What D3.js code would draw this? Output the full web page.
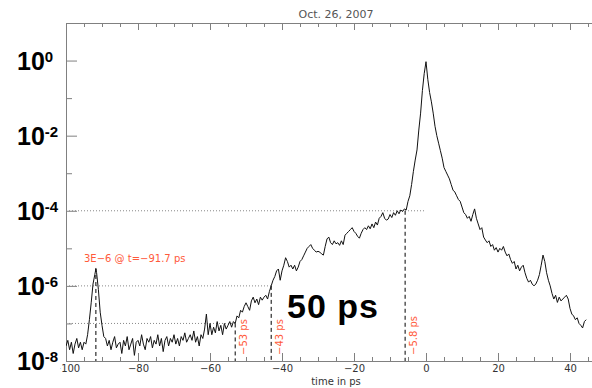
<!DOCTYPE html>
<html>
<head>
<meta charset="utf-8">
<script src="https://cdnjs.cloudflare.com/ajax/libs/d3/7.8.5/d3.min.js"></script>
<style>
body { margin: 0; background: #fff; }
.axis path, .axis line { stroke: #808080; }
.axis text { font-family: "DejaVu Sans", sans-serif; font-size: 10px; fill: #333; }
</style>
</head>
<body>
<script>
// Trace: [time in ps, log10 of signal]
var trace = [
    [-100, -7.6], [-99.5, -7.45], [-99, -7.7], [-98.5, -7.5], [-98, -7.8],
    [-97.5, -7.55], [-97, -7.4], [-96.5, -7.65], [-96, -7.5], [-95.5, -7.7],
    [-95, -7.5], [-94.5, -7.55], [-94, -7.3], [-93.5, -6.9], [-93, -6.45],
    [-92.5, -5.95], [-92, -5.7], [-91.7, -5.55], [-91.5, -5.65], [-91, -6.1],
    [-90.5, -6.7], [-90, -7.05], [-89.5, -7.35], [-89, -7.4], [-88.5, -7.6],
    [-88, -7.45], [-87.5, -7.7], [-87, -7.5], [-86.5, -7.35], [-86, -7.65],
    [-85.5, -7.55], [-85, -7.5], [-84.5, -7.8], [-84, -7.45], [-83.5, -7.6],
    [-83, -7.35], [-82.5, -7.7], [-82, -7.55], [-81.5, -7.4], [-81, -7.85],
    [-80.5, -7.5], [-80, -7.45], [-79.5, -7.6], [-79, -7.3], [-78.5, -7.55],
    [-78, -7.7], [-77.5, -7.4], [-77, -7.5], [-76.5, -7.35], [-76, -7.65],
    [-75.5, -7.45], [-75, -7.55], [-74.5, -7.3], [-74, -7.6], [-73.5, -7.4],
    [-73, -7.75], [-72.5, -7.45], [-72, -7.35], [-71.5, -7.6], [-71, -7.4],
    [-70.5, -7.5], [-70, -7.3], [-69.5, -7.55], [-69, -7.4], [-68.5, -7.6],
    [-68, -7.35], [-67.5, -7.45], [-67, -7.25], [-66.5, -7.5], [-66, -7.4],
    [-65.5, -7.3], [-65, -7.45], [-64.5, -7.2], [-64, -7.5], [-63.5, -7.35],
    [-63, -7.6], [-62.5, -7.3], [-62, -7.4], [-61.5, -7.15], [-61, -6.75],
    [-60.5, -7.3], [-60, -7.0], [-59.5, -7.3], [-59, -7.1], [-58.5, -7.25],
    [-58, -6.95], [-57.5, -7.2], [-57, -7.05], [-56.5, -7.3], [-56, -7.0],
    [-55.5, -7.15], [-55, -7.05], [-54.5, -6.95], [-54, -7.1], [-53.5, -6.95],
    [-53, -7.0], [-52.5, -6.8], [-52, -6.85], [-51.5, -6.65], [-51, -6.7],
    [-50.5, -6.55], [-50, -6.45], [-49.5, -6.55], [-49, -6.65], [-48.5, -6.4],
    [-48, -6.3], [-47.5, -6.45], [-47, -6.35], [-46.5, -6.5], [-46, -6.3],
    [-45.5, -6.38], [-45, -6.3], [-44.5, -6.25], [-44, -6.35], [-43.5, -6.15],
    [-43, -6.0], [-42.5, -5.85], [-42, -5.75], [-41.5, -5.6], [-41, -5.55],
    [-40.5, -5.85], [-40, -5.6], [-39.5, -5.45], [-39, -5.25], [-38.5, -5.35],
    [-38, -5.5], [-37.5, -5.45], [-37, -5.55], [-36.5, -5.45], [-36, -5.6],
    [-35.5, -5.5], [-35, -5.35], [-34.5, -5.3], [-34, -5.2], [-33.5, -5.1],
    [-33, -5.0], [-32.5, -4.95], [-32, -4.9], [-31.5, -5.0], [-31, -5.05],
    [-30.5, -5.1], [-30, -5.08], [-29.5, -5.1], [-29, -5.15], [-28.5, -5.18],
    [-28, -4.95], [-27.5, -4.75], [-27, -4.7], [-26.5, -4.85], [-26, -4.9],
    [-25.5, -4.8], [-25, -4.88], [-24.5, -4.85], [-24, -4.92], [-23.5, -4.8],
    [-23, -4.9], [-22.5, -4.65], [-22, -4.6], [-21.5, -4.55], [-21, -4.5],
    [-20.5, -4.45], [-20, -4.55], [-19.5, -4.6], [-19, -4.68], [-18.5, -4.73],
    [-18, -4.6], [-17.5, -4.5], [-17, -4.45], [-16.5, -4.5], [-16, -4.4],
    [-15.5, -4.48], [-15, -4.35], [-14.5, -4.45], [-14, -4.3], [-13.5, -4.38],
    [-13, -4.2], [-12.5, -4.15], [-12, -4.05], [-11.5, -4.2], [-11, -4.25],
    [-10.5, -4.22], [-10, -4.1], [-9.5, -4.18], [-9, -4.05], [-8.5, -4.12],
    [-8, -4.0], [-7.5, -4.08], [-7, -3.98], [-6.5, -4.02], [-6, -3.95],
    [-5.5, -3.98], [-5, -3.75], [-4.5, -3.6], [-4, -3.3], [-3.5, -2.95],
    [-3, -2.65], [-2.5, -2.38], [-2, -1.85], [-1.5, -1.4], [-1, -0.8],
    [-0.5, -0.35], [0, -0.03], [0.5, -0.5], [1, -0.85], [1.5, -1.1],
    [2, -1.4], [2.5, -1.75], [3, -2.0], [3.5, -2.2], [4, -2.4],
    [4.5, -2.6], [5, -2.85], [5.5, -2.95], [6, -3.05], [6.5, -3.15],
    [7, -3.3], [7.5, -3.45], [8, -3.5], [8.5, -3.6], [9, -3.7],
    [9.5, -3.75], [10, -3.9], [10.5, -4.05], [11, -4.1], [11.5, -4.2],
    [12, -4.15], [12.5, -4.28], [13, -4.1], [13.5, -3.95], [14, -4.2],
    [14.5, -4.35], [15, -4.5], [15.5, -4.45], [16, -4.7], [16.5, -4.78],
    [17, -4.85], [17.5, -4.8], [18, -4.95], [18.5, -4.9], [19, -5.05],
    [19.5, -4.98], [20, -5.1], [20.5, -5.0], [21, -5.05], [21.5, -4.95],
    [22, -5.1], [22.5, -5.2], [23, -5.15], [23.5, -5.3], [24, -5.4],
    [24.5, -5.35], [25, -5.55], [25.5, -5.45], [26, -5.6], [26.5, -5.5],
    [27, -5.45], [27.5, -5.65], [28, -5.8], [28.5, -5.9], [29, -5.85],
    [29.5, -5.95], [30, -6.0], [30.5, -5.95], [31, -5.85], [31.5, -5.7],
    [32, -5.45], [32.5, -5.18], [33, -5.35], [33.5, -5.65], [34, -5.85],
    [34.5, -6.0], [35, -6.2], [35.5, -6.35], [36, -6.25], [36.5, -6.44],
    [37, -6.3], [37.5, -6.4], [38, -6.35], [38.5, -6.3], [39, -6.25],
    [39.5, -6.35], [40, -6.6], [40.5, -6.75], [41, -6.8], [41.5, -6.9],
    [42, -6.85], [42.5, -7.0], [43, -7.05], [43.5, -7.12], [44, -6.95],
    [44.5, -6.9]
];

// Marked times, the level each dashed line starts from, and their labels
var markTimes = [-91.7, -53, -43, -5.8];
var markLevels = [3e-6, 1e-7, 1e-6, 1e-4];
var markLabels = ["3E\u22126 @ t=\u221291.7 ps", "\u221253 ps", "\u221243 ps",
                  "\u22125.8 ps"];

// Dotted guide levels and the time each one runs to
var guideLevels = [1e-4, 1e-6, 1e-7];
var guideEnds = [0, -43, -53];

// Tick values
var xMajor = [-100, -80, -60, -40, -20, 0, 20, 40];
var xMinor = d3.range(-100, 51, 5);
var yMajorExp = [0, -2, -4, -6, -8];
var yMinorExp = [1, -1, -3, -5, -7];

var title = "Oct. 26, 2007";
var xTitle = "time in ps";
var note = "50 ps";

var width = 592, height = 388;
var margin = {left: 66, top: 23, bottom: 361};

var svg = d3.select("body")
    .append("svg")
    .attr("width", width)
    .attr("height", height);

var x = d3.scaleLinear()
    .domain([-100, 50])
    .range([margin.left, margin.left + 150 * 3.6]);

var y = d3.scaleLog()
    .domain([1e-8, 10])
    .range([margin.bottom, margin.top]);

svg.append("clipPath")
    .attr("id", "plotclip")
    .append("rect")
    .attr("x", margin.left)
    .attr("y", margin.top)
    .attr("width", width - margin.left)
    .attr("height", margin.bottom - margin.top);

//Bottom axis, major ticks with labels then minor ticks
svg.append("g")
    .attr("class", "axis")
    .attr("transform", "translate(0," + margin.bottom + ")")
    .call(d3.axisBottom(x).tickValues(xMajor).tickSize(-8)
        .tickSizeOuter(0).tickPadding(4).tickFormat(d3.format("d")));

svg.append("g")
    .attr("class", "axis")
    .attr("transform", "translate(0," + margin.bottom + ")")
    .call(d3.axisBottom(x).tickValues(xMinor).tickSize(-4)
        .tickSizeOuter(0).tickFormat(""));

//Top axis
svg.append("g")
    .attr("class", "axis")
    .attr("transform", "translate(0," + margin.top + ")")
    .call(d3.axisTop(x).tickValues(xMajor).tickSize(-7)
        .tickSizeOuter(0).tickFormat(""));

svg.append("g")
    .attr("class", "axis")
    .attr("transform", "translate(0," + margin.top + ")")
    .call(d3.axisTop(x).tickValues(xMinor).tickSize(-4)
        .tickSizeOuter(0).tickFormat(""));

//Left axis
svg.append("g")
    .attr("class", "axis")
    .attr("transform", "translate(" + margin.left + ",0)")
    .call(d3.axisLeft(y).tickValues(yMajorExp.map(function(e) {
            return Math.pow(10, e);
        })).tickSize(-11).tickSizeOuter(0).tickFormat(""));

svg.append("g")
    .attr("class", "axis")
    .attr("transform", "translate(" + margin.left + ",0)")
    .call(d3.axisLeft(y).tickValues(yMinorExp.map(function(e) {
            return Math.pow(10, e);
        })).tickSize(-6).tickSizeOuter(0).tickFormat(""));

//White strip where the big labels were pasted over the plot
svg.append("rect")
    .attr("x", 0)
    .attr("y", margin.bottom + 1)
    .attr("width", 60)
    .attr("height", height - margin.bottom - 1)
    .style("fill", "#fff");

//Big y labels
var ylab = svg.append("g")
    .selectAll("text")
    .data(yMajorExp)
    .enter().append("text")
    .attr("x", 17)
    .attr("y", function(d) { return y(Math.pow(10, d)) + 9; })
    .style("font-family", "'Liberation Sans', Arial, sans-serif")
    .style("font-weight", "bold")
    .style("font-size", "25px")
    .style("fill", "#000");

ylab.append("tspan").text("10");
ylab.append("tspan")
    .attr("dy", -8)
    .style("font-size", "15px")
    .text(function(d) { return d === 0 ? "0" : "-" + (-d); });

//Dotted guides
svg.append("g")
    .selectAll("line")
    .data(guideLevels)
    .enter().append("line")
    .attr("x1", x(-100))
    .attr("x2", function(d, i) { return x(guideEnds[i]); })
    .attr("y1", function(d) { return y(d); })
    .attr("y2", function(d) { return y(d); })
    .style("stroke", "#888")
    .style("stroke-dasharray", "1,2");

//Dashed markers
svg.append("g")
    .selectAll("line")
    .data(markTimes)
    .enter().append("line")
    .attr("x1", function(d) { return x(d); })
    .attr("x2", function(d) { return x(d); })
    .attr("y1", function(d, i) { return y(markLevels[i]); })
    .attr("y2", margin.bottom)
    .style("stroke", "#000")
    .style("stroke-dasharray", "4,3");

//Trace
var line = d3.line()
    .x(function(d) { return x(d[0]); })
    .y(function(d) { return y(Math.pow(10, d[1])); });

svg.append("path")
    .datum(trace)
    .attr("clip-path", "url(#plotclip)")
    .attr("d", line)
    .style("fill", "none")
    .style("stroke", "#111")
    .style("stroke-width", 1);

//Red labels
var red = "#ff5a3a";
svg.append("text")
    .attr("x", 84)
    .attr("y", 262)
    .style("font-family", "'DejaVu Sans', sans-serif")
    .style("font-size", "10px")
    .style("fill", red)
    .text(markLabels[0]);

svg.append("g")
    .selectAll("text")
    .data(markTimes.slice(1))
    .enter().append("text")
    .attr("transform", function(d) {
        return "translate(" + (x(d) + 12) + ",355) rotate(-90)";
    })
    .style("font-family", "'DejaVu Sans', sans-serif")
    .style("font-size", "10px")
    .style("fill", red)
    .text(function(d, i) { return markLabels[i + 1]; });

//Title and axis title
svg.append("text")
    .attr("x", 336)
    .attr("y", 18)
    .attr("text-anchor", "middle")
    .style("font-family", "'DejaVu Sans', sans-serif")
    .style("font-size", "11px")
    .style("fill", "#555")
    .text(title);

svg.append("text")
    .attr("x", 336)
    .attr("y", 385)
    .attr("text-anchor", "middle")
    .style("font-family", "'DejaVu Sans', sans-serif")
    .style("font-size", "10px")
    .style("fill", "#333")
    .text(xTitle);

svg.append("text")
    .attr("x", 287)
    .attr("y", 318)
    .style("font-family", "'Liberation Sans', Arial, sans-serif")
    .style("font-weight", "bold")
    .style("font-size", "34px")
    .style("letter-spacing", "1px")
    .style("fill", "#000")
    .text(note);
</script>
</body>
</html>
